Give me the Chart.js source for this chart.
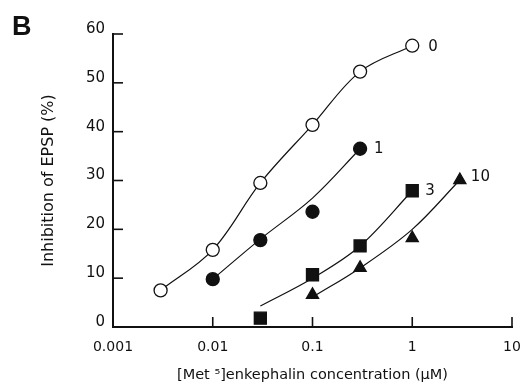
<!DOCTYPE html>
<html>
<head>
<meta charset="utf-8">
<script src="https://cdn.jsdelivr.net/npm/chart.js@4/dist/chart.umd.min.js"></script>
<style>
  html, body { margin: 0; padding: 0; background: #fff; }
  #c { display: block; }
</style>
</head>
<body>
<canvas id="c" width="524" height="387"></canvas>
<script>
// ---- Data ----
const xTickValues = [0.001, 0.01, 0.1, 1, 10];
const xTickLabels = ['0.001', '0.01', '0.1', '1', '10'];
const yTickValues = [0, 10, 20, 30, 40, 50, 60];

// Series labels (antagonist concentration)
const seriesLabels = ['0', '1', '3', '10'];

// Measured points
const conc0 = [0.003, 0.01, 0.03, 0.1, 0.3, 1];
const inhib0 = [7.5, 15.8, 29.5, 41.4, 52.3, 57.6];
const conc1 = [0.01, 0.03, 0.1, 0.3];
const inhib1 = [9.8, 17.8, 23.6, 36.5];
const conc3 = [0.03, 0.1, 0.3, 1];
const inhib3 = [1.8, 10.7, 16.6, 27.9];
const conc10 = [0.1, 0.3, 1, 3];
const inhib10 = [6.6, 12.1, 18.2, 30.1];

// Fitted curves
const fitConc0 = [0.003, 0.01, 0.03, 0.1, 0.3, 1];
const fitInhib0 = [7.5, 15.8, 29.5, 41.4, 52.3, 57.6];
const fitConc1 = [0.01, 0.03, 0.1, 0.3];
const fitInhib1 = [9.8, 18.0, 26.4, 36.5];
const fitConc3 = [0.03, 0.1, 0.3, 1];
const fitInhib3 = [4.3, 10.0, 16.6, 27.9];
const fitConc10 = [0.1, 0.3, 1, 3];
const fitInhib10 = [6.1, 12.1, 20.0, 30.1];

const pts = (xs, ys) => xs.map((x, i) => ({ x: x, y: ys[i] }));

const FONT = '"DejaVu Sans", "Liberation Sans", Arial, sans-serif';
const INK = '#111';

function markerSet(xs, ys, style, fill, radius) {
  return {
    type: 'line',
    data: pts(xs, ys),
    showLine: false,
    pointStyle: style,
    pointRadius: radius,
    pointBackgroundColor: fill,
    pointBorderColor: INK,
    pointBorderWidth: 1.3,
    borderColor: INK
  };
}
function curveSet(xs, ys) {
  return {
    type: 'line',
    data: pts(xs, ys),
    borderColor: INK,
    borderWidth: 1.2,
    pointRadius: 0,
    fill: false,
    tension: 0.35
  };
}

const datasets = [
  markerSet(conc0, inhib0, 'circle', '#fff', 6.5),
  markerSet(conc1, inhib1, 'circle', INK, 6.5),
  markerSet(conc3, inhib3, 'rect', INK, 8.5),
  markerSet(conc10, inhib10, 'triangle', INK, 7),
  curveSet(fitConc0, fitInhib0),
  curveSet(fitConc1, fitInhib1),
  curveSet(fitConc3, fitInhib3),
  curveSet(fitConc10, fitInhib10)
];

const decorations = {
  id: 'decorations',
  afterDraw(chart) {
    const ctx = chart.ctx;
    const xs = chart.scales.x, ys = chart.scales.y;
    const area = chart.chartArea;
    ctx.save();
    ctx.strokeStyle = INK;
    ctx.lineWidth = 1.6;
    // inward tick marks
    xTickValues.forEach(v => {
      const px = xs.getPixelForValue(v);
      ctx.beginPath(); ctx.moveTo(px, area.bottom); ctx.lineTo(px, area.bottom - 10); ctx.stroke();
    });
    yTickValues.forEach(v => {
      const py = ys.getPixelForValue(v);
      ctx.beginPath(); ctx.moveTo(area.left, py); ctx.lineTo(area.left + 10, py); ctx.stroke();
    });
    // panel letter
    ctx.fillStyle = INK;
    ctx.font = 'bold 27px "Liberation Sans", Arial, sans-serif';
    ctx.textBaseline = 'alphabetic';
    ctx.textAlign = 'left';
    ctx.fillText('B', 12, 35);
    // series end labels
    ctx.font = '15px ' + FONT;
    ctx.textBaseline = 'middle';
    const ends = [
      [conc0, inhib0, 16, 1],
      [conc1, inhib1, 14, 0],
      [conc3, inhib3, 13, 0],
      [conc10, inhib10, 11, -3]
    ];
    ends.forEach((e, i) => {
      const n = e[0].length - 1;
      const px = xs.getPixelForValue(e[0][n]);
      const py = ys.getPixelForValue(e[1][n]);
      ctx.fillText(seriesLabels[i], px + e[2], py + e[3]);
    });
    ctx.restore();
  }
};

new Chart(document.getElementById('c'), {
  data: { datasets: datasets },
  options: {
    responsive: false,
    devicePixelRatio: 1,
    animation: false,
    events: [],
    layout: { padding: { left: 0, top: 34, right: 12, bottom: 0 } },
    plugins: { legend: { display: false }, tooltip: { enabled: false } },
    scales: {
      x: {
        type: 'logarithmic',
        position: 'bottom',
        min: 0.001,
        max: 10,
        afterBuildTicks: s => { s.ticks = xTickValues.map(v => ({ value: v })); },
        afterFit: s => { s.height = 60; s.paddingLeft = 0; s.paddingRight = 0; },
        grid: { display: false, drawTicks: false },
        border: { display: true, color: INK, width: 2 },
        ticks: {
          color: INK,
          font: { family: FONT, size: 14 },
          padding: 12,
          maxRotation: 0,
          autoSkip: false,
          callback: (v) => { const i = xTickValues.indexOf(v); return i >= 0 ? xTickLabels[i] : ''; }
        },
        title: {
          display: true,
          text: '[Met \u2075]enkephalin concentration (\u00b5M)',
          color: INK,
          font: { family: FONT, size: 14.5 },
          padding: { top: 0, bottom: 3 }
        }
      },
      y: {
        type: 'linear',
        min: 0,
        max: 60,
        afterBuildTicks: s => { s.ticks = yTickValues.map(v => ({ value: v })); },
        afterFit: s => { s.width = 113; s.paddingTop = 0; s.paddingBottom = 0; },
        grid: { display: false, drawTicks: false },
        border: { display: true, color: INK, width: 2 },
        ticks: {
          color: INK,
          font: { family: FONT, size: 15 },
          padding: 8,
          labelOffset: -5
        },
        title: {
          display: true,
          text: 'Inhibition of EPSP (%)',
          color: INK,
          font: { family: FONT, size: 16 },
          padding: { top: 39, bottom: 0 }
        }
      }
    }
  },
  plugins: [decorations]
});
</script>
</body>
</html>
